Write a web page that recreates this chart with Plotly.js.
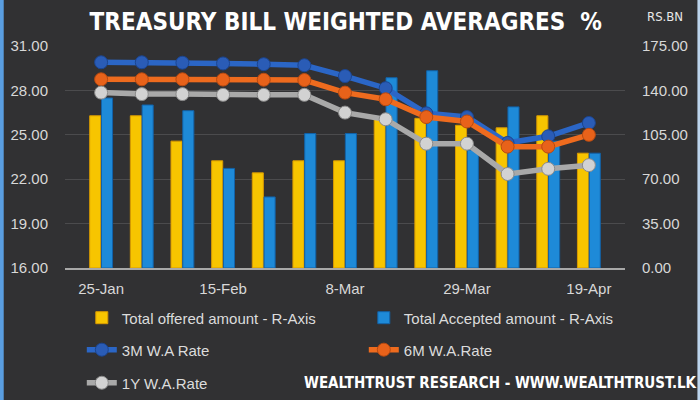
<!DOCTYPE html>
<html>
<head>
<meta charset="utf-8">
<script src="https://cdn.plot.ly/plotly-3.0.1.min.js"></script>
<style>html,body{margin:0;padding:0;background:#323234;}#chart{width:700px;height:400px;}</style>
</head>
<body>
<div id="chart"></div>
<script>
// Weekly auction dates
var dates = ['25-Jan','1-Feb','8-Feb','15-Feb','22-Feb','1-Mar','8-Mar','15-Mar','22-Mar','29-Mar','5-Apr','12-Apr','19-Apr'];
var tickDates = ['25-Jan','15-Feb','8-Mar','29-Mar','19-Apr'];
// Amounts (Rs. Bn, right axis)
var offered  = [120, 120, 100, 84.5, 75, 84.5, 84.5, 119, 118, 112.5, 110.5, 120, 90.5];
var accepted = [134, 128.5, 124, 78.5, 56, 106, 106, 150, 155.5, 93, 127, 100, 90.5];
// Weighted average rates (%, left axis)
var rate3M = [29.90, 29.90, 29.87, 29.82, 29.77, 29.70, 28.97, 28.15, 26.45, 26.20, 24.45, 24.90, 25.80];
var rate6M = [28.75, 28.75, 28.75, 28.73, 28.72, 28.70, 27.85, 27.40, 26.20, 25.90, 24.20, 24.20, 25.00];
var rate1Y = [27.85, 27.75, 27.75, 27.70, 27.70, 27.70, 26.50, 26.05, 24.40, 24.40, 22.35, 22.70, 22.95];

var narrow = 'DejaVu Sans Condensed, Liberation Sans Narrow, Arial Narrow, sans-serif';
var legFont = {family: 'Liberation Sans, Arial, sans-serif', size: 15, color: '#dcdcdc'};

var traces = [
  {type: 'bar', name: 'Total offered amount - R-Axis', x: dates, y: offered, yaxis: 'y', legend: 'legend',
   marker: {color: '#f7c500', line: {color: '#d99a00', width: 1}}},
  {type: 'bar', name: 'Total Accepted amount - R-Axis', x: dates, y: accepted, yaxis: 'y', legend: 'legend',
   marker: {color: '#1e8ad8', line: {color: '#1262a8', width: 1}}},
  {type: 'scatter', mode: 'lines+markers', name: '3M W.A Rate', x: dates, y: rate3M, yaxis: 'y2', legend: 'legend2',
   line: {color: '#2b66c6', width: 5.5}, marker: {color: '#2a5cb6', size: 13, line: {color: '#1b4590', width: 1}}},
  {type: 'scatter', mode: 'lines+markers', name: '6M W.A.Rate', x: dates, y: rate6M, yaxis: 'y2', legend: 'legend2',
   line: {color: '#ee6b1e', width: 5.5}, marker: {color: '#e8621a', size: 13, line: {color: '#b84a10', width: 1}}},
  {type: 'scatter', mode: 'lines+markers', name: '1Y W.A.Rate', x: dates, y: rate1Y, yaxis: 'y2', legend: 'legend3',
   line: {color: '#a9a9a9', width: 5.5}, marker: {color: '#d2d2d2', size: 13, line: {color: '#8a8a8a', width: 1}}}
];

var tickFont = {family: 'Liberation Sans, Arial, sans-serif', size: 15, color: '#d8d8d8'};

var layout = {
  width: 700, height: 400,
  margin: {l: 65, r: 75, t: 46, b: 132, autoexpand: false},
  paper_bgcolor: '#313133',
  plot_bgcolor: '#313133',
  barmode: 'group', bargap: 0.42, bargroupgap: 0.06,
  hovermode: false,
  title: {text: 'TREASURY BILL WEIGHTED AVERAGRES&nbsp;&nbsp;%', x: 0.494, xanchor: 'center', y: 0.945, yanchor: 'middle',
          font: {family: narrow, size: 24, color: '#ffffff', weight: 'bold'}},
  xaxis: {type: 'category', tickvals: tickDates, ticktext: tickDates, tickfont: tickFont,
          showgrid: false, showline: true, linecolor: '#a8a8a8', linewidth: 2, ticks: '', ticklabelstandoff: 6},
  yaxis: {side: 'right', range: [0, 175], tick0: 0, dtick: 35, tickformat: '.2f', tickfont: tickFont,
          showgrid: true, gridcolor: 'rgba(255,255,255,0.13)', zeroline: false, ticks: '', ticklabelstandoff: 16},
  yaxis2: {side: 'left', overlaying: 'y', range: [16, 31], tick0: 16, dtick: 3, tickformat: '.2f', tickfont: tickFont,
           showgrid: false, zeroline: false, ticks: '', ticklabelstandoff: 16},
  legend: {orientation: 'h', x: 0.03, xanchor: 'left', y: -0.225, yanchor: 'middle', font: legFont,
           entrywidth: 237, bgcolor: 'rgba(0,0,0,0)'},
  legend2: {orientation: 'h', x: 0.03, xanchor: 'left', y: -0.369, yanchor: 'middle', font: legFont,
            entrywidth: 237, bgcolor: 'rgba(0,0,0,0)'},
  legend3: {orientation: 'h', x: 0.03, xanchor: 'left', y: -0.518, yanchor: 'middle', font: legFont,
            entrywidth: 237, bgcolor: 'rgba(0,0,0,0)'},
  annotations: [
    {text: 'RS.BN', xref: 'paper', yref: 'paper', x: 1.072, y: 1.135, xanchor: 'center', yanchor: 'middle', showarrow: false,
     font: {family: narrow, size: 13, color: '#e8e8e8'}},
    {text: 'WEALTHTRUST RESEARCH - WWW.WEALTHTRUST.LK', xref: 'paper', yref: 'paper', x: 0.777, y: -0.518,
     xanchor: 'center', yanchor: 'middle', showarrow: false,
     font: {family: narrow, size: 15, color: '#ffffff', weight: 'bold'}}
  ],
  shapes: [
    {type: 'line', xref: 'paper', yref: 'paper', x0: -0.113, x1: -0.113, y0: -0.6, y1: 1.21, line: {color: '#5a9ee0', width: 4}},
    {type: 'line', xref: 'paper', yref: 'paper', x0: 1.132, x1: 1.132, y0: -0.6, y1: 1.21, line: {color: '#bcd4ec', width: 3}}
  ]
};

Plotly.newPlot('chart', traces, layout, {displayModeBar: false, staticPlot: true});
</script>
</body>
</html>
